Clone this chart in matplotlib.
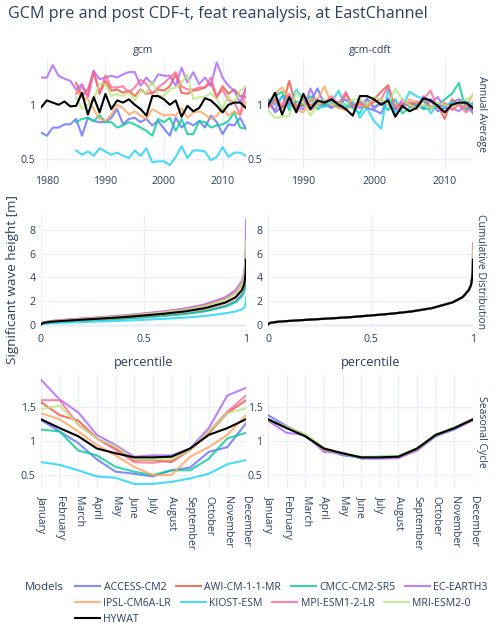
import matplotlib
matplotlib.use('Agg')
import matplotlib.pyplot as plt

plt.rcParams['font.family'] = ['Open Sans', 'DejaVu Sans']

# ---------------- data ----------------
models = ['ACCESS-CM2', 'AWI-CM-1-1-MR', 'CMCC-CM2-SR5', 'EC-EARTH3',
          'IPSL-CM6A-LR', 'KIOST-ESM', 'MPI-ESM1-2-LR', 'MRI-ESM2-0']
colors = {'ACCESS-CM2': '#636efa', 'AWI-CM-1-1-MR': '#EF553B', 'CMCC-CM2-SR5': '#00cc96',
          'EC-EARTH3': '#ab63fa', 'IPSL-CM6A-LR': '#FFA15A', 'KIOST-ESM': '#19d3f3',
          'MPI-ESM1-2-LR': '#FF6692', 'MRI-ESM2-0': '#B6E880', 'HYWAT': 'black'}

years_long = list(range(1979, 2015))
years_short = list(range(1985, 2015))

hywat_annual = [0.975, 1.04, 1.02, 1.0, 1.03, 0.985, 0.99, 1.11, 0.91, 1.07, 0.93, 1.10,
                0.96, 1.04, 1.02, 1.05, 1.0, 0.96, 0.90, 1.08, 1.08, 1.05, 1.0, 1.04,
                0.89, 0.99, 0.94, 0.97, 1.06, 1.04, 0.99, 0.93, 1.0, 1.02, 1.02, 0.97]

gcm_annual = {
    'ACCESS-CM2': [0.745, 0.715, 0.79, 0.79, 0.82, 0.82, 0.87, 0.715, 0.88, 0.85, 0.84, 0.84,
                   0.88, 0.96, 0.82, 0.87, 0.88, 0.84, 0.87, 0.81, 0.85, 0.78, 0.715, 0.88,
                   0.79, 0.84, 0.81, 0.85, 0.79, 0.90, 0.84, 0.73, 0.82, 0.81, 0.88, 0.78],
    'AWI-CM-1-1-MR': [1.20, 1.08, 1.14, 1.31, 1.10, 1.22, 1.13, 1.14, 1.11, 1.13, 1.08, 1.14,
                      1.10, 1.11, 1.14, 1.13, 1.17, 1.28, 1.11, 1.10, 1.13, 1.14, 1.16, 1.20,
                      1.07, 1.17, 1.10, 1.14, 1.08, 1.07],
    'CMCC-CM2-SR5': [0.84, 0.87, 0.88, 0.85, 0.905, 0.84, 0.84, 0.79, 0.81, 0.84, 0.82, 0.79,
                     0.76, 0.715, 0.87, 0.84, 0.88, 0.76, 0.87, 0.73, 0.73, 0.85, 0.84, 0.79,
                     0.81, 0.82, 0.85, 0.93, 0.79, 0.78],
    'EC-EARTH3': [1.25, 1.25, 1.365, 1.267, 1.24, 1.22, 1.14, 1.19, 1.08, 1.31, 1.236, 1.25,
                  1.267, 1.25, 1.28, 1.30, 1.30, 1.175, 1.25, 1.19, 1.28, 1.267, 1.267, 1.175,
                  1.34, 1.205, 1.30, 1.19, 1.25, 1.175, 1.39, 1.25, 1.175, 1.13, 1.02, 1.16],
    'IPSL-CM6A-LR': [1.13, 1.07, 1.05, 0.96, 0.87, 0.85, 0.91, 1.0, 0.97, 0.91, 0.94, 0.90,
                     0.87, 0.96, 0.93, 0.90, 0.91, 0.90, 0.97, 0.88, 0.93, 0.94, 0.91, 0.87,
                     0.90, 0.97, 0.90, 0.94, 0.90, 1.04],
    'KIOST-ESM': [0.58, 0.54, 0.57, 0.53, 0.60, 0.57, 0.54, 0.56, 0.53, 0.51, 0.58, 0.53,
                  0.60, 0.47, 0.48, 0.48, 0.445, 0.52, 0.62, 0.51, 0.58, 0.58, 0.57, 0.49,
                  0.52, 0.61, 0.52, 0.56, 0.56, 0.53],
    'MPI-ESM1-2-LR': [1.10, 1.17, 1.07, 1.30, 1.11, 1.27, 1.16, 1.16, 1.17, 1.11, 1.16, 1.23,
                      1.19, 1.10, 1.16, 1.20, 1.25, 1.30, 1.17, 1.14, 1.14, 1.16, 1.16, 1.25,
                      1.07, 1.14, 1.04, 1.02, 0.91, 1.16],
    'MRI-ESM2-0': [1.07, 0.96, 1.0, 1.05, 1.19, 1.19, 1.08, 1.10, 1.08, 1.11, 1.04, 1.13,
                   1.11, 1.22, 1.08, 1.08, 1.14, 1.16, 1.20, 1.28, 1.05, 1.07, 1.07, 1.11,
                   1.05, 0.96, 1.08, 1.02, 1.13, 1.17],
}

cdft_annual = {
    'ACCESS-CM2': [1.05, 0.93, 0.98, 1.02, 0.96, 1.0, 1.03, 1.15, 1.0, 0.97, 1.02, 1.05, 0.98, 1.03, 0.97,
                   0.95, 0.92, 1.06, 0.97, 1.01, 0.99, 1.03, 0.97, 1.05, 0.94, 0.97, 1.02, 1.05, 1.02, 0.92],
    'AWI-CM-1-1-MR': [1.0, 1.05, 0.97, 1.22, 0.98, 1.0, 1.0, 1.02, 0.99, 1.05, 0.97, 1.1, 1.0, 1.0, 0.97,
                      1.05, 1.12, 1.18, 0.95, 1.0, 1.02, 1.0, 1.05, 0.98, 1.0, 0.87, 1.05, 1.0, 0.97, 1.02],
    'CMCC-CM2-SR5': [0.98, 1.08, 1.12, 0.95, 1.03, 1.0, 1.08, 0.96, 1.0, 1.02, 0.98, 1.0, 0.97, 0.92, 1.05,
                     0.98, 1.02, 0.95, 1.05, 0.92, 0.97, 1.0, 0.96, 0.97, 1.0, 1.05, 1.1, 1.2, 0.95, 1.0],
    'EC-EARTH3': [1.02, 0.95, 1.08, 1.0, 0.97, 0.96, 1.15, 1.0, 1.04, 0.98, 1.03, 0.97, 1.0, 0.97, 1.06,
                  0.96, 1.02, 1.0, 0.95, 1.05, 1.0, 0.98, 1.08, 1.02, 1.07, 0.97, 0.97, 0.94, 1.0, 0.95],
    'IPSL-CM6A-LR': [0.97, 1.1, 1.16, 1.05, 0.95, 0.93, 1.05, 1.05, 1.17, 1.0, 0.97, 0.95, 1.02, 1.0, 0.98,
                     1.02, 1.05, 1.0, 1.0, 0.96, 1.05, 1.02, 1.03, 0.96, 0.98, 1.0, 0.97, 1.0, 0.98, 1.1],
    'KIOST-ESM': [1.05, 1.0, 1.08, 0.98, 1.14, 1.05, 0.97, 1.0, 0.98, 1.03, 1.13, 0.97, 1.03, 0.88, 0.97,
                  0.85, 0.78, 1.15, 0.92, 0.97, 1.12, 1.08, 1.05, 0.92, 1.0, 0.98, 1.03, 1.0, 1.03, 1.0],
    'MPI-ESM1-2-LR': [0.97, 1.03, 1.0, 1.1, 0.98, 1.05, 0.95, 1.0, 1.02, 1.08, 1.0, 1.12, 0.98, 1.02, 1.0,
                      1.03, 1.05, 1.17, 0.98, 1.02, 1.0, 0.96, 1.05, 1.13, 0.97, 1.02, 0.95, 1.0, 0.93, 0.98],
    'MRI-ESM2-0': [0.95, 0.88, 0.89, 0.9, 1.12, 1.02, 0.9, 1.0, 1.05, 1.0, 1.02, 1.0, 1.05, 1.05, 1.0,
                   1.07, 1.05, 1.0, 1.15, 1.05, 1.0, 0.97, 1.0, 0.97, 1.02, 1.0, 0.98, 1.02, 1.05, 1.08],
}

percentiles = [0, 0.01, 0.05, 0.1, 0.2, 0.3, 0.4, 0.5, 0.6, 0.7, 0.8, 0.9, 0.95, 0.98, 0.99, 0.995, 0.999, 1.0]
hywat_cdf = [0.05, 0.18, 0.28, 0.34, 0.45, 0.55, 0.66, 0.80, 0.95, 1.14, 1.42, 1.90, 2.35, 2.95, 3.35, 3.8, 4.6, 5.5]
gcm_cdf = {
    'ACCESS-CM2': [0.04, 0.15, 0.23, 0.28, 0.37, 0.46, 0.55, 0.66, 0.79, 0.95, 1.18, 1.6, 2.0, 2.55, 2.95, 3.4, 4.1, 4.9],
    'AWI-CM-1-1-MR': [0.05, 0.2, 0.32, 0.39, 0.52, 0.63, 0.76, 0.92, 1.09, 1.31, 1.64, 2.2, 2.72, 3.4, 3.9, 4.4, 5.3, 6.2],
    'CMCC-CM2-SR5': [0.04, 0.15, 0.23, 0.28, 0.37, 0.45, 0.54, 0.65, 0.78, 0.93, 1.16, 1.55, 1.92, 2.4, 2.75, 3.1, 3.7, 4.3],
    'EC-EARTH3': [0.06, 0.22, 0.34, 0.42, 0.55, 0.67, 0.81, 0.97, 1.16, 1.39, 1.74, 2.35, 2.95, 3.7, 4.3, 5.0, 6.5, 8.8],
    'IPSL-CM6A-LR': [0.04, 0.17, 0.27, 0.32, 0.43, 0.52, 0.63, 0.76, 0.90, 1.08, 1.35, 1.82, 2.25, 2.85, 3.25, 3.7, 4.5, 5.3],
    'KIOST-ESM': [0.03, 0.1, 0.15, 0.19, 0.25, 0.3, 0.36, 0.44, 0.52, 0.62, 0.76, 0.98, 1.15, 1.32, 1.45, 1.6, 1.9, 2.3],
    'MPI-ESM1-2-LR': [0.05, 0.21, 0.33, 0.4, 0.53, 0.64, 0.77, 0.94, 1.11, 1.33, 1.66, 2.24, 2.78, 3.5, 4.0, 4.6, 5.6, 6.9],
    'MRI-ESM2-0': [0.05, 0.2, 0.31, 0.38, 0.5, 0.62, 0.74, 0.90, 1.07, 1.28, 1.6, 2.15, 2.7, 3.45, 4.0, 4.7, 5.9, 7.1],
}
cdft_cdf = {
    'ACCESS-CM2': [0.05, 0.18, 0.28, 0.34, 0.45, 0.55, 0.66, 0.80, 0.95, 1.14, 1.42, 1.91, 2.36, 2.96, 3.37, 3.85, 4.7, 5.7],
    'AWI-CM-1-1-MR': [0.05, 0.18, 0.28, 0.34, 0.45, 0.55, 0.66, 0.80, 0.95, 1.14, 1.42, 1.90, 2.35, 2.95, 3.35, 3.8, 4.8, 6.0],
    'CMCC-CM2-SR5': [0.05, 0.18, 0.28, 0.34, 0.45, 0.55, 0.66, 0.80, 0.95, 1.14, 1.42, 1.90, 2.35, 2.94, 3.33, 3.75, 4.5, 5.4],
    'EC-EARTH3': [0.05, 0.18, 0.28, 0.34, 0.45, 0.55, 0.66, 0.81, 0.96, 1.15, 1.43, 1.91, 2.36, 2.96, 3.36, 3.85, 4.8, 5.9],
    'IPSL-CM6A-LR': [0.05, 0.18, 0.28, 0.34, 0.45, 0.55, 0.66, 0.80, 0.95, 1.14, 1.42, 1.90, 2.35, 2.95, 3.35, 3.8, 4.7, 5.6],
    'KIOST-ESM': [0.05, 0.18, 0.28, 0.34, 0.45, 0.55, 0.66, 0.80, 0.95, 1.14, 1.42, 1.90, 2.35, 2.95, 3.35, 3.8, 4.6, 5.5],
    'MPI-ESM1-2-LR': [0.05, 0.18, 0.28, 0.34, 0.45, 0.55, 0.66, 0.80, 0.95, 1.14, 1.42, 1.90, 2.35, 2.96, 3.38, 3.9, 5.0, 6.9],
    'MRI-ESM2-0': [0.05, 0.18, 0.28, 0.34, 0.45, 0.55, 0.66, 0.80, 0.95, 1.14, 1.42, 1.90, 2.35, 2.96, 3.37, 3.85, 4.9, 6.2],
}

months = ['January', 'February', 'March', 'April', 'May', 'June', 'July', 'August',
          'September', 'October', 'November', 'December']
hywat_season = [1.32, 1.19, 1.07, 0.89, 0.82, 0.76, 0.76, 0.77, 0.89, 1.09, 1.19, 1.32]
gcm_season = {
    'ACCESS-CM2': [1.31, 1.14, 0.97, 0.73, 0.55, 0.52, 0.48, 0.57, 0.61, 0.84, 0.91, 1.26],
    'AWI-CM-1-1-MR': [1.57, 1.38, 1.30, 1.04, 0.89, 0.72, 0.72, 0.69, 0.87, 1.11, 1.41, 1.60],
    'CMCC-CM2-SR5': [1.17, 1.14, 0.86, 0.79, 0.62, 0.55, 0.50, 0.57, 0.57, 0.74, 1.04, 1.12],
    'EC-EARTH3': [1.90, 1.61, 1.42, 1.09, 0.94, 0.77, 0.79, 0.79, 0.89, 1.19, 1.67, 1.78],
    'IPSL-CM6A-LR': [1.41, 1.32, 1.14, 0.94, 0.79, 0.62, 0.50, 0.50, 0.77, 0.91, 1.09, 1.38],
    'KIOST-ESM': [0.69, 0.65, 0.57, 0.48, 0.46, 0.37, 0.37, 0.40, 0.45, 0.52, 0.66, 0.72],
    'MPI-ESM1-2-LR': [1.60, 1.60, 1.24, 1.04, 0.87, 0.69, 0.68, 0.72, 0.87, 1.14, 1.43, 1.67],
    'MRI-ESM2-0': [1.47, 1.52, 1.24, 1.04, 0.92, 0.73, 0.73, 0.73, 0.87, 1.14, 1.41, 1.48],
}
cdft_season = {
    'ACCESS-CM2': [1.38, 1.22, 1.07, 0.88, 0.79, 0.76, 0.76, 0.77, 0.87, 1.07, 1.17, 1.31],
    'AWI-CM-1-1-MR': [1.31, 1.20, 1.08, 0.89, 0.81, 0.75, 0.76, 0.77, 0.88, 1.09, 1.19, 1.32],
    'CMCC-CM2-SR5': [1.30, 1.21, 1.09, 0.88, 0.81, 0.76, 0.77, 0.78, 0.89, 1.08, 1.20, 1.31],
    'EC-EARTH3': [1.30, 1.12, 1.09, 0.84, 0.83, 0.74, 0.74, 0.75, 0.86, 1.08, 1.18, 1.30],
    'IPSL-CM6A-LR': [1.31, 1.20, 1.08, 0.87, 0.81, 0.75, 0.76, 0.77, 0.88, 1.08, 1.19, 1.31],
    'KIOST-ESM': [1.32, 1.20, 1.07, 0.88, 0.80, 0.75, 0.76, 0.77, 0.88, 1.08, 1.19, 1.32],
    'MPI-ESM1-2-LR': [1.31, 1.21, 1.08, 0.88, 0.81, 0.76, 0.76, 0.77, 0.88, 1.09, 1.19, 1.31],
    'MRI-ESM2-0': [1.31, 1.21, 1.10, 0.90, 0.82, 0.77, 0.77, 0.78, 0.90, 1.10, 1.20, 1.32],
}

title = 'GCM pre and post CDF-t, feat reanalysis, at EastChannel'
col_titles = ['gcm', 'gcm-cdft']
row_titles = ['Annual Average', 'Cumulative Distribution', 'Seasonal Cycle']
y_label = 'Significant wave height [m]'

# ---------------- style ----------------
W, H = 500, 628
TXT = '#2a3f5f'
GRID = '#EBF0F8'
FS = 7.6
fig = plt.figure(figsize=(W / 100, H / 100), dpi=100)


def ax_at(l, t, r, b):
    ax = fig.add_axes([l / W, 1 - b / H, (r - l) / W, (b - t) / H])
    for s in ax.spines.values():
        s.set_visible(False)
    ax.grid(True, color=GRID, lw=1)
    ax.set_axisbelow(True)
    ax.tick_params(length=0, colors=TXT, labelsize=FS, pad=4)
    return ax


cols = [(41, 246), (268, 473)]
rows = [(58, 170), (215, 328), (375, 488)]
axes = [[ax_at(c[0], r[0], c[1], r[1]) for c in cols] for r in rows]

LW = 1.5
A = 0.8

# row 1: annual
for j, data in enumerate([gcm_annual, cdft_annual]):
    ax = axes[0][j]
    for m in models:
        vals = data[m]
        xs = years_long if len(vals) == len(years_long) else years_short
        ax.plot(xs, vals, color=colors[m], lw=LW, alpha=A)
    if j == 0:
        ax.plot(years_long, hywat_annual, color='black', lw=LW)
        ax.set_xlim(1979, 2014)
        ax.set_xticks([1980, 1990, 2000, 2010])
    else:
        ax.plot(years_short, hywat_annual[6:], color='black', lw=LW)
        ax.set_xlim(1985, 2014)
        ax.set_xticks([1990, 2000, 2010])
    ax.set_ylim(0.4, 1.43)
    ax.set_yticks([0.5, 1])
    ax.set_yticklabels(['0.5', '1'])

# row 2: cdf
for j, data in enumerate([gcm_cdf, cdft_cdf]):
    ax = axes[1][j]
    for m in models:
        ax.plot(percentiles, data[m], color=colors[m], lw=LW, alpha=A)
    ax.plot(percentiles, hywat_cdf, color='black', lw=LW)
    ax.set_xlim(0, 1)
    ax.set_ylim(-0.25, 9.25)
    ax.set_xticks([0, 0.5, 1])
    ax.set_xticklabels(['0', '0.5', '1'])
    ax.set_yticks([0, 2, 4, 6, 8])
    ax.axhline(0, color=GRID, lw=2, zorder=0)
    ax.set_xlabel('percentile', color=TXT, fontsize=9.1, labelpad=8)

# row 3: seasonal
for j, data in enumerate([gcm_season, cdft_season]):
    ax = axes[2][j]
    for m in models:
        ax.plot(months, data[m], color=colors[m], lw=LW, alpha=A)
    ax.plot(months, hywat_season, color='black', lw=LW)
    ax.set_xlim(0, 11)
    ax.set_ylim(0.31, 1.97)
    ax.set_yticks([0.5, 1, 1.5])
    ax.set_yticklabels(['0.5', '1', '1.5'])
    ax.tick_params(axis='x', pad=6)
    for lab in ax.get_xticklabels():
        lab.set_rotation(-90)
        lab.set_va('top')
        lab.set_ha('center')

# texts
fig.text(8 / W, 1 - 14 / H, title, color=TXT, fontsize=11.6, va='center', ha='left')
for (c0, c1), t in zip(cols, col_titles):
    fig.text((c0 + c1) / 2 / W, 1 - 50 / H, t, color=TXT, fontsize=FS, ha='center', va='center')
for (r0, r1), t in zip(rows, row_titles):
    fig.text(481 / W, 1 - (r0 + r1) / 2 / H, t, color=TXT, fontsize=7.5, rotation=-90,
             ha='center', va='center')
fig.text(13 / W, 1 - 280 / H, y_label, color=TXT, fontsize=9.7, rotation=90, ha='center', va='center')

# legend
fig.text(25 / W, 1 - 587 / H, 'Models', color=TXT, fontsize=8.2, ha='left', va='center')
handles = {m: plt.Line2D([], [], color=colors[m], lw=LW, alpha=A) for m in models}
handles['HYWAT'] = plt.Line2D([], [], color='black', lw=LW)
legend_rows = [models[:4], models[4:], ['HYWAT']]
for i, names in enumerate(legend_rows):
    yc = [587, 603, 619][i]
    leg = fig.legend([handles[n] for n in names], names, loc='center left',
                     bbox_to_anchor=(75 / W, 1 - yc / H), ncol=len(names), frameon=False,
                     fontsize=FS, handlelength=2.4, handletextpad=0.3, columnspacing=0.9,
                     borderpad=0, borderaxespad=0)
    for t in leg.get_texts():
        t.set_color(TXT)

fig.savefig('out.png', dpi=100)
